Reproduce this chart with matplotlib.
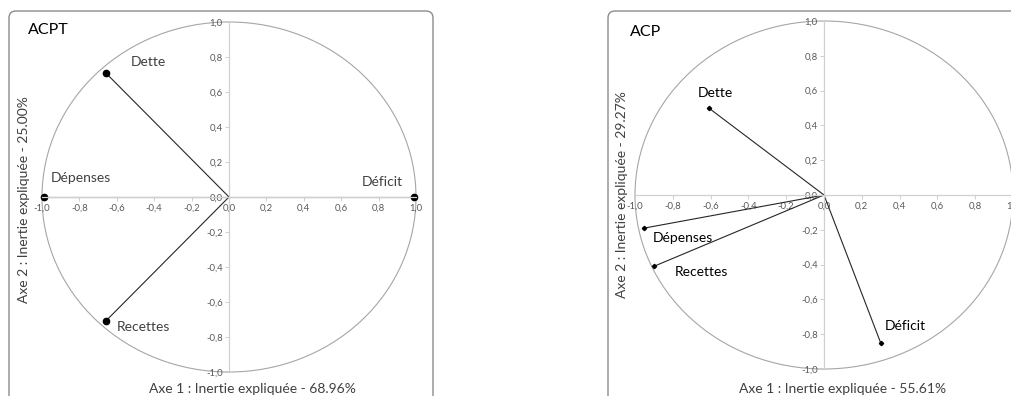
import matplotlib
matplotlib.use("Agg")
import matplotlib.pyplot as plt
from matplotlib.patches import FancyBboxPatch, Circle

plt.rcParams['font.family'] = ['Lato', 'DejaVu Sans']

# correlation circle coordinates
acpt_names = ['Dette', 'Dépenses', 'Déficit', 'Recettes']
acpt_x = [-0.66, -0.99, 0.99, -0.66]
acpt_y = [0.71, 0.00, 0.00, -0.71]

acp_names = ['Dette', 'Dépenses', 'Recettes', 'Déficit']
acp_x = [-0.61, -0.95, -0.90, 0.30]
acp_y = [0.50, -0.19, -0.41, -0.85]

ticks = [-1.0, -0.8, -0.6, -0.4, -0.2, 0.0, 0.2, 0.4, 0.6, 0.8, 1.0]
tick_labels = ['-1,0', '-0,8', '-0,6', '-0,4', '-0,2', '0,0', '0,2', '0,4', '0,6', '0,8', '1,0']

W, H = 1012, 396
fig = plt.figure(figsize=(W / 100, H / 100), dpi=100)

# background layer in pixel coords for frames and free text
bg = fig.add_axes([0, 0, 1, 1], zorder=0)
bg.set_xlim(0, W)
bg.set_ylim(H, 0)
bg.axis('off')
for x0, x1 in [(9, 433), (608, 1030)]:
    bg.add_patch(FancyBboxPatch((x0, 11), x1 - x0, 420, boxstyle="round,pad=0,rounding_size=7",
                                fc='white', ec='#8c8c8c', lw=1.0))


def circle_panel(rect, names, xs, ys, offsets, aligns, marker, msize):
    ax = fig.add_axes([rect[0] / W, rect[1] / H, rect[2] / W, rect[3] / H], zorder=1)
    ax.patch.set_alpha(0)
    ax.set_xlim(-1, 1)
    ax.set_ylim(-1, 1)
    for s in ['top', 'right']:
        ax.spines[s].set_visible(False)
    for s in ['left', 'bottom']:
        ax.spines[s].set_position(('data', 0))
        ax.spines[s].set_color('#d0d0d0')
        ax.spines[s].set_linewidth(0.9)
    ax.set_xticks(ticks)
    ax.set_yticks(ticks)
    ax.set_xticklabels(tick_labels)
    ax.set_yticklabels(tick_labels)
    ax.tick_params(labelsize=6.8, length=3, width=0.6, color='#c8c8c8', labelcolor='#595959', pad=1.5)
    ax.add_patch(Circle((0, 0), 1, fill=False, ec='#a6a6a6', lw=0.8, clip_on=False))
    for name, x, y, off, ha in zip(names, xs, ys, offsets, aligns):
        ax.plot([0, x], [0, y], color='#262626', lw=0.8, clip_on=False)
        ax.plot([x], [y], marker=marker, color='black', ms=msize, clip_on=False)
        ax.annotate(name, (x, y), xytext=off, textcoords='offset points', ha=ha, va='center',
                    fontsize=10, color='#404040' if marker == 'o' else 'black')
    return ax


circle_panel((42, 24, 374, 350), acpt_names, acpt_x, acpt_y,
             [(18, 8), (5, 14), (-8, 11), (8, -4)], ['left', 'left', 'right', 'left'], 'o', 4.5)
circle_panel((635, 27, 378, 348), acp_names, acp_x, acp_y,
             [(-8, 11), (6, -7), (15, -4), (3, 12)], ['left', 'left', 'left', 'left'], 'D', 2.2)

bg.text(28, 30, 'ACPT', fontsize=11.5, va='center', ha='left', color='black')
bg.text(630, 32, 'ACP', fontsize=11.5, va='center', ha='left', color='black')
bg.text(24, 200, 'Axe 2 : Inertie expliquée - 25.00%', rotation=90, fontsize=10,
        ha='center', va='center', color='#404040')
bg.text(622, 195, 'Axe 2 : Inertie expliquée - 29.27%', rotation=90, fontsize=10,
        ha='center', va='center', color='#404040')
bg.text(252, 389, 'Axe 1 : Inertie expliquée - 68.96%', fontsize=10, ha='center', va='center', color='#404040')
bg.text(843, 389, 'Axe 1 : Inertie expliquée - 55.61%', fontsize=10, ha='center', va='center', color='#404040')

fig.savefig('out.png', dpi=100)
